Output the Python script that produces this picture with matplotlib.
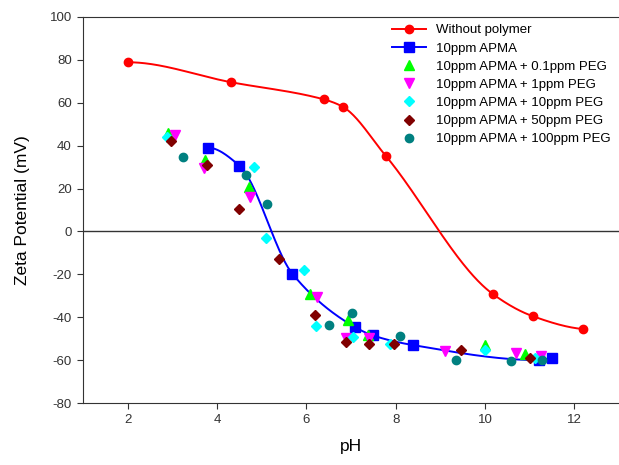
import numpy as np
import matplotlib
matplotlib.use('Agg')
import matplotlib.pyplot as plt

plt.rcParams['font.family'] = ['Liberation Sans', 'DejaVu Sans']
plt.rcParams['axes.unicode_minus'] = False

# --- data ---
ph_nopoly = [2.0, 4.31, 6.39, 6.81, 7.78, 10.17, 11.08, 12.19]
zp_nopoly = [78.9, 69.6, 61.6, 58.2, 35.2, -29.1, -39.6, -45.5]

ph_apma = [3.79, 4.50, 5.69, 7.08, 7.49, 8.39, 11.20, 11.49]
zp_apma = [39.1, 30.7, -19.8, -44.5, -48.5, -53.0, -60.0, -59.0]

ph_peg01 = [2.91, 3.73, 4.71, 6.09, 6.94, 7.38, 10.00, 10.89]
zp_peg01 = [45.8, 33.4, 20.5, -29.1, -41.5, -48.2, -53.0, -57.2]

ph_peg1 = [3.06, 3.71, 4.74, 6.24, 6.88, 7.40, 9.11, 10.69, 11.25]
zp_peg1 = [45.0, 29.5, 16.0, -30.8, -49.7, -49.7, -55.6, -56.7, -58.3]

ph_peg10 = [2.89, 4.83, 5.09, 5.94, 6.21, 7.05, 7.87, 9.99, 11.11]
zp_peg10 = [43.9, 30.1, -3.1, -18.2, -44.3, -49.3, -52.4, -55.5, -58.9]

ph_peg50 = [2.96, 3.77, 4.50, 5.38, 6.20, 6.89, 7.40, 7.96, 9.46, 11.00]
zp_peg50 = [42.2, 30.9, 10.5, -12.9, -39.0, -51.4, -52.4, -52.4, -55.5, -58.9]

ph_peg100 = [3.23, 4.66, 5.12, 6.50, 7.03, 8.09, 9.34, 10.58, 11.27]
zp_peg100 = [34.9, 26.5, 12.9, -43.5, -37.8, -48.8, -59.8, -60.3, -60.0]


def smooth(x, y, xs):
    # monotone cubic through the points (Fritsch-Carlson), flat start
    x = np.asarray(x, float)
    y = np.asarray(y, float)
    h = np.diff(x)
    d = np.diff(y) / h
    n = len(x)
    m = np.zeros(n)
    for k in range(1, n - 1):
        if d[k - 1] * d[k] > 0:
            w1 = 2 * h[k] + h[k - 1]
            w2 = h[k] + 2 * h[k - 1]
            m[k] = (w1 + w2) / (w1 / d[k - 1] + w2 / d[k])
    mk = ((2 * h[-1] + h[-2]) * d[-1] - h[-1] * d[-2]) / (h[-1] + h[-2])
    if np.sign(mk) != np.sign(d[-1]):
        mk = 0
    elif np.sign(d[-1]) != np.sign(d[-2]) and abs(mk) > abs(3 * d[-1]):
        mk = 3 * d[-1]
    m[-1] = mk
    i = np.clip(np.searchsorted(x, xs) - 1, 0, n - 2)
    t = (xs - x[i]) / h[i]
    h00 = 2 * t**3 - 3 * t**2 + 1
    h10 = t**3 - 2 * t**2 + t
    h01 = -2 * t**3 + 3 * t**2
    h11 = t**3 - t**2
    return h00 * y[i] + h10 * h[i] * m[i] + h01 * y[i + 1] + h11 * h[i] * m[i + 1]


fig = plt.figure(figsize=(6.19, 4.65), dpi=100)
ax = fig.add_axes([83 / 619, 1 - 403 / 465, 1 - 83 / 619, (403 - 17) / 465])

ax.axhline(0, color='#333333', lw=1.0, zorder=1)

xs = np.linspace(ph_nopoly[0], ph_nopoly[-1], 400)
ax.plot(xs, smooth(ph_nopoly, zp_nopoly, xs), color='red', lw=1.4, zorder=2)
ax.plot(ph_nopoly, zp_nopoly, 'o', color='red', ms=6, zorder=3)
ax.plot([], [], '-o', color='red', ms=6, lw=1.4, label='Without polymer')

xs = np.linspace(ph_apma[0], ph_apma[-1], 400)
ax.plot(xs, smooth(ph_apma, zp_apma, xs), color='blue', lw=1.4, zorder=2)
ax.plot(ph_apma, zp_apma, 's', color='blue', ms=6.5, zorder=3)
ax.plot([], [], '-s', color='blue', ms=6.5, lw=1.4, label='10ppm APMA')

ax.plot(ph_peg01, zp_peg01, '^', color='#00ff00', ms=6.5, ls='none', label='10ppm APMA + 0.1ppm PEG', zorder=4)
ax.plot(ph_peg1, zp_peg1, 'v', color='#ff00ff', ms=6.5, ls='none', label='10ppm APMA + 1ppm PEG', zorder=4)
ax.plot(ph_peg10, zp_peg10, 'D', color='#00ffff', ms=5.5, ls='none', label='10ppm APMA + 10ppm PEG', zorder=4)
ax.plot(ph_peg50, zp_peg50, 'D', color='#800000', ms=5.5, ls='none', label='10ppm APMA + 50ppm PEG', zorder=4)
ax.plot(ph_peg100, zp_peg100, 'o', color='#008080', ms=6, ls='none', label='10ppm APMA + 100ppm PEG', zorder=4)

ax.set_xlim(1, 13)
ax.set_ylim(-80, 100)
ax.set_xticks([2, 4, 6, 8, 10, 12])
ax.set_yticks(np.arange(-80, 101, 20))
ax.spines['right'].set_visible(False)
for s in ['left', 'bottom', 'top']:
    ax.spines[s].set_color('#333333')
ax.tick_params(direction='out', length=4, labelsize=9.5, colors='#333333', labelcolor='#333333', pad=4)

ax.set_xlabel('pH', fontsize=12.5, labelpad=9)
ax.set_ylabel('Zeta Potential (mV)', fontsize=12.5, labelpad=14)

ax.legend(loc='upper right', bbox_to_anchor=(1.0, 1.002), frameon=False, fontsize=9.5,
          handlelength=2.6, labelspacing=0.45, handletextpad=0.8, borderaxespad=0.2)

fig.savefig('out.png', dpi=100)
